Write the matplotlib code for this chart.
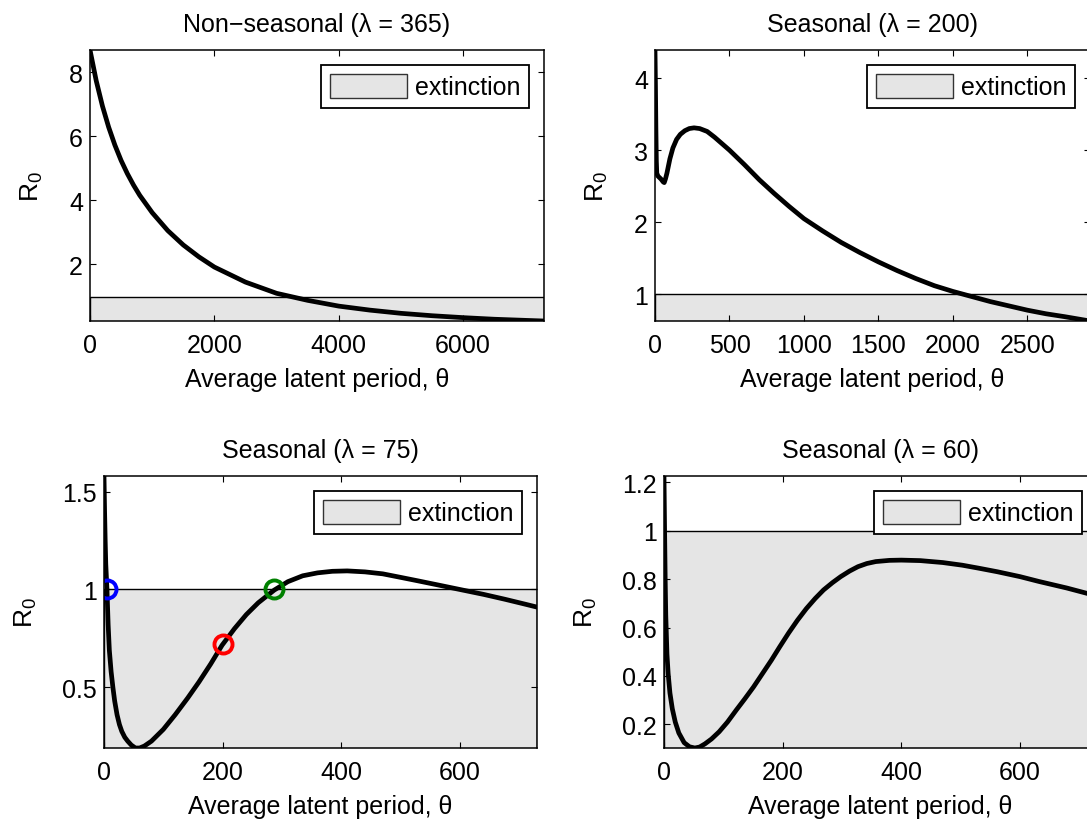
import matplotlib
matplotlib.use('Agg')
import matplotlib.pyplot as plt
from matplotlib.patches import Patch

plt.rcParams['font.family'] = ['Liberation Sans', 'DejaVu Sans']
plt.rcParams['font.size'] = 18

# R0 against average latent period (days)
theta_365 = [0, 100, 200, 300, 400, 500, 600, 700, 800, 1000, 1250, 1500, 1750, 2000,
             2500, 3000, 3500, 4000, 4500, 5000, 5500, 6000, 6500, 7000, 7300]
r0_365 = [8.70, 7.74, 6.95, 6.29, 5.73, 5.25, 4.84, 4.48, 4.16, 3.62, 3.06, 2.61, 2.24,
          1.92, 1.45, 1.10, 0.88, 0.70, 0.575, 0.475, 0.40, 0.34, 0.29, 0.255, 0.235]

theta_200 = [0, 3, 6, 9, 12, 20, 40, 55, 62, 70, 80, 90, 100, 120, 145, 170, 200, 230,
             262, 300, 350, 400, 450, 500, 600, 700, 800, 900, 1000, 1125, 1250, 1375,
             1500, 1625, 1750, 1875, 2000, 2125, 2250, 2375, 2500, 2625, 2750, 2920]
r0_200 = [4.39, 3.90, 3.30, 2.85, 2.68, 2.64, 2.60, 2.56, 2.55, 2.60, 2.68, 2.78, 2.88,
          3.03, 3.15, 3.22, 3.27, 3.30, 3.31, 3.30, 3.26, 3.18, 3.09, 3.00, 2.80, 2.59,
          2.40, 2.22, 2.05, 1.88, 1.72, 1.58, 1.45, 1.33, 1.22, 1.12, 1.04, 0.97, 0.90,
          0.84, 0.78, 0.73, 0.69, 0.63]

theta_75 = [0, 1, 2, 3, 5, 7, 9, 12, 15, 18, 22, 26, 30, 35, 40, 46, 53, 60, 68, 80, 90,
            100, 120, 141, 160, 180, 199, 220, 240, 260, 287, 310, 335, 360, 385, 410,
            440, 470, 500, 528, 565, 600, 640, 676, 710, 730]
r0_75 = [1.58, 1.40, 1.25, 1.13, 1.00, 0.82, 0.69, 0.58, 0.50, 0.43, 0.36, 0.31, 0.275,
         0.245, 0.225, 0.205, 0.19, 0.19, 0.20, 0.225, 0.255, 0.285, 0.36, 0.445, 0.527,
         0.62, 0.715, 0.80, 0.872, 0.932, 0.997, 1.04, 1.07, 1.085, 1.093, 1.095, 1.09,
         1.08, 1.062, 1.045, 1.022, 1.00, 0.975, 0.95, 0.925, 0.91]

theta_60 = [0, 1, 2, 3, 5, 7, 10, 14, 19, 25, 34, 43, 52, 60, 69, 80, 93, 107, 122, 136,
            151, 166, 181, 195, 210, 225, 240, 255, 269, 284, 298, 313, 327, 342, 357,
            380, 400, 432, 470, 503, 530, 562, 600, 632, 679, 730]
r0_60 = [1.225, 1.00, 0.80, 0.65, 0.49, 0.41, 0.33, 0.265, 0.21, 0.165, 0.125, 0.108,
         0.103, 0.107, 0.12, 0.14, 0.17, 0.21, 0.26, 0.305, 0.355, 0.41, 0.465, 0.52,
         0.577, 0.63, 0.678, 0.72, 0.755, 0.785, 0.81, 0.833, 0.851, 0.864, 0.872, 0.877,
         0.878, 0.876, 0.868, 0.857, 0.845, 0.83, 0.81, 0.79, 0.763, 0.73]

# highlighted points on the lambda = 75 curve
mark_theta = [5, 200, 287]
mark_r0 = [1.0, 0.72, 1.0]
mark_colors = ['#0000ff', '#ff0000', '#008000']

titles = ['Non\u2212seasonal (\u03bb = 365)', 'Seasonal (\u03bb = 200)',
          'Seasonal (\u03bb = 75)', 'Seasonal (\u03bb = 60)']

W, H = 1087, 820
fig = plt.figure(figsize=(W / 100, H / 100), dpi=100)

# axes boxes in pixels (left, right, top, bottom); right column runs off the page
boxes = [(90, 544, 51, 322), (655, 1090, 51, 322),
         (104, 537, 477, 749), (664, 1097, 477, 749)]
series = [(theta_365, r0_365), (theta_200, r0_200), (theta_75, r0_75), (theta_60, r0_60)]
xticks = [[0, 2000, 4000, 6000], [0, 500, 1000, 1500, 2000, 2500],
          [0, 200, 400, 600], [0, 200, 400, 600]]
yticks = [[2, 4, 6, 8], [1, 2, 3, 4], [0.5, 1, 1.5], [0.2, 0.4, 0.6, 0.8, 1, 1.2]]
ytick_labels = [['2', '4', '6', '8'], ['1', '2', '3', '4'], ['0.5', '1', '1.5'],
                ['0.2', '0.4', '0.6', '0.8', '1', '1.2']]

for i, (x0, x1, y0, y1) in enumerate(boxes):
    ax = fig.add_axes([x0 / W, 1 - y1 / H, (x1 - x0) / W, (y1 - y0) / H])
    th, r0 = series[i]
    ax.axhspan(-10, 1, facecolor='#e5e5e5', edgecolor='k', lw=1.0, zorder=1)
    ax.plot(th, r0, color='k', lw=3.4, zorder=3, solid_joinstyle='round')
    if i == 2:
        for mx, my, mc in zip(mark_theta, mark_r0, mark_colors):
            ax.plot(mx, my, 'o', mfc='none', mec=mc, ms=13, mew=2.8, zorder=4)
    ax.set_xlim(0, max(th))
    ax.set_ylim(min(r0), max(r0))
    ax.set_xticks(xticks[i])
    ax.set_yticks(yticks[i])
    ax.set_yticklabels(ytick_labels[i])
    ax.tick_params(direction='in', length=4, width=0.8, top=True, right=True,
                   labelsize=18)
    ax.tick_params(axis='x', pad=9)
    ax.tick_params(axis='y', pad=5)
    for s in ax.spines.values():
        s.set_linewidth(1.1)
        s.set_zorder(5)
    ax.set_title(titles[i], fontsize=18, pad=14)
    ax.set_xlabel('Average latent period, \u03b8', fontsize=18, labelpad=7)
    ax.set_ylabel('$\\mathregular{R_0}$', fontsize=19, labelpad=17)
    leg = ax.legend(handles=[Patch(facecolor='#e5e5e5', edgecolor='#333333', lw=1.0)],
                    labels=['extinction'], loc='upper right', fancybox=False,
                    framealpha=1, edgecolor='k', fontsize=18, handlelength=3.1,
                    handleheight=1.1, handletextpad=0.3, borderpad=0.35,
                    borderaxespad=0.6)
    leg.get_frame().set_linewidth(1.3)
    leg.set_zorder(6)

fig.savefig('out.png', dpi=100)
